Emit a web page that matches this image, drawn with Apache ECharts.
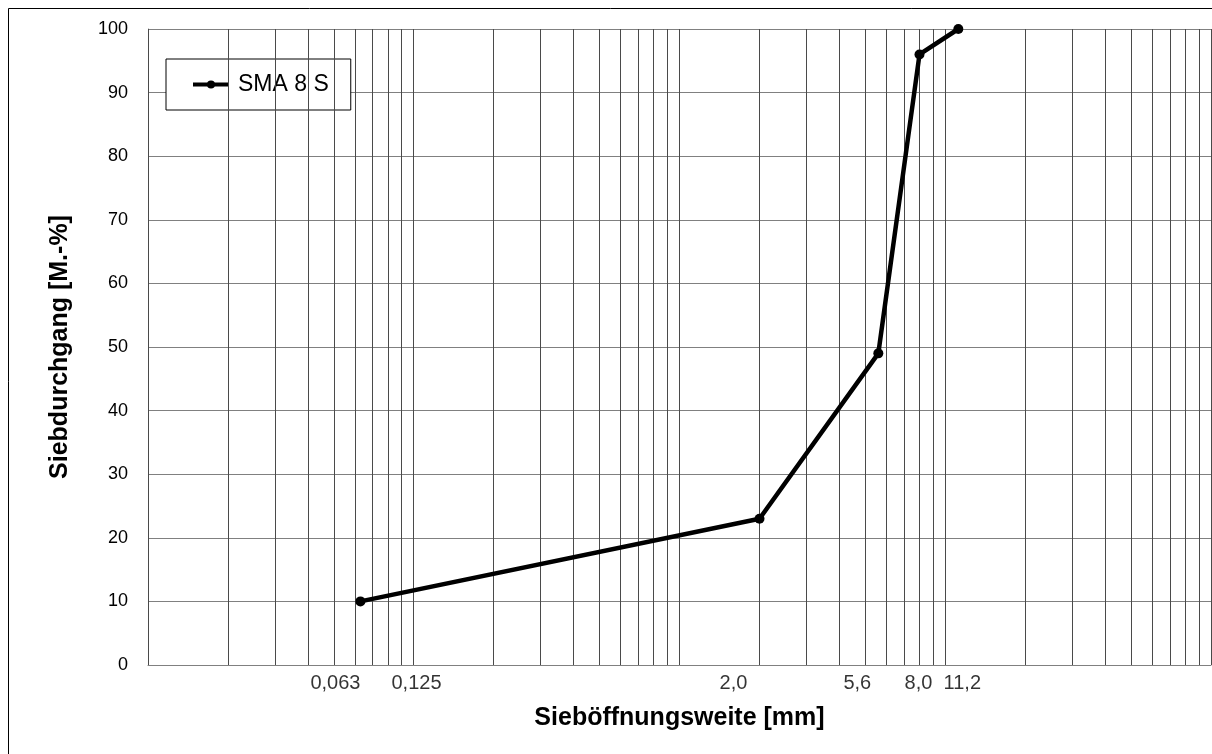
<!DOCTYPE html>
<html>
<head>
<meta charset="utf-8">
<script src="https://cdn.jsdelivr.net/npm/echarts@6/dist/echarts.min.js"></script>
<style>
  html, body { margin: 0; padding: 0; background: #fff; }
  #chart { width: 1212px; height: 754px; }
</style>
</head>
<body>
<div id="chart"></div>
<script>
// Sieblinie SMA 8 S
var siebWeite = [0.063, 2.0, 5.6, 8.0, 11.2];
var siebDurchgang = [10, 23, 49, 96, 100];

// beschriftete Siebe unter der x-Achse
var tickWerte = [0.063, 0.125, 2.0, 5.6, 8.0, 11.2];
var tickTexte = ['0,063', '0,125', '2,0', '5,6', '8,0', '11,2'];

// senkrechte Gitterlinien (log. Teilung)
var gitterX = [
    0.01, 0.02, 0.03, 0.04, 0.05, 0.06, 0.07, 0.08, 0.09,
    0.1, 0.2, 0.3, 0.4, 0.5, 0.6, 0.7, 0.8, 0.9,
    1, 2, 3, 4, 5, 6, 7, 8, 9,
    10, 20, 30, 40, 50, 60, 70, 80, 90, 100
];

var labelVersatz = [-25, -23, -26, -21, -1, 4];

var font = 'Arial, "Liberation Sans", sans-serif';

var d = [];
for (var i = 0; i < siebWeite.length; i++) {
    d.push([siebWeite[i], siebDurchgang[i]]);
}
var ticks = [];
for (var j = 0; j < tickWerte.length; j++) {
    ticks.push({
        value: [tickWerte[j], 0],
        label: {offset: [labelVersatz[j], 0]}
    });
}
var linien = gitterX.map(function (x) {
    return {xAxis: x};
});

var option = {
    animation: false,
    textStyle: {fontFamily: font},
    graphic: [{
        type: 'rect',
        z: 0,
        shape: {x: 8.5, y: 8.5, width: 1300, height: 800},
        style: {fill: 'none', stroke: '#000', lineWidth: 1}
    }],
    grid: {left: 148, right: 1, top: 29, bottom: 89, containLabel: false},
    legend: {
        left: 166,
        top: 59,
        padding: [14, 22, 14, 25],
        backgroundColor: '#fff',
        borderColor: '#000',
        borderWidth: 1,
        itemWidth: 36,
        itemHeight: 10,
        lineStyle: {width: 4},
        data: ['SMA 8 S'],
        textStyle: {fontSize: 23, color: '#000', fontFamily: font, padding: [0, 0, 0, 4]}
    },
    xAxis: {
        type: 'log',
        logBase: 10,
        min: 0.01,
        max: 100,
        axisLine: {lineStyle: {color: '#808080', width: 1}},
        axisTick: {show: false},
        axisLabel: {show: false},
        splitLine: {show: false},
        name: 'Sieböffnungsweite [mm]',
        nameLocation: 'middle',
        nameGap: 41,
        nameTextStyle: {fontSize: 25, fontWeight: 'bold', color: '#000', fontFamily: font}
    },
    yAxis: {
        type: 'value',
        min: 0,
        max: 100,
        interval: 10,
        axisLine: {show: true, lineStyle: {color: '#808080', width: 1}},
        axisTick: {show: false},
        axisLabel: {fontSize: 18, color: '#000', margin: 20, fontFamily: font},
        splitLine: {lineStyle: {color: '#808080', width: 1}},
        name: 'Siebdurchgang [M.-%]',
        nameLocation: 'middle',
        nameGap: 75,
        nameTextStyle: {fontSize: 25, fontWeight: 'bold', color: '#000', fontFamily: font}
    },
    series: [
        {
            name: 'gitter',
            type: 'line',
            data: [],
            silent: true,
            markLine: {
                silent: true,
                symbol: 'none',
                label: {show: false},
                animation: false,
                lineStyle: {color: '#4a4a4a', width: 1, type: 'solid'},
                data: linien
            }
        },
        {
            name: 'ticks',
            type: 'scatter',
            data: ticks,
            symbolSize: 0,
            silent: true,
            clip: false,
            label: {
                show: true,
                position: 'bottom',
                distance: 8,
                fontSize: 20,
                color: '#000',
                fontFamily: font,
                formatter: function (p) {
                    return tickTexte[p.dataIndex];
                }
            }
        },
        {
            name: 'SMA 8 S',
            type: 'line',
            data: d,
            z: 5,
            color: '#000',
            symbol: 'circle',
            symbolSize: 10,
            lineStyle: {color: '#000', width: 4.5},
            itemStyle: {color: '#000'}
        }
    ]
};

var myChart = echarts.init(document.getElementById('chart'));
myChart.setOption(option);
</script>
</body>
</html>
